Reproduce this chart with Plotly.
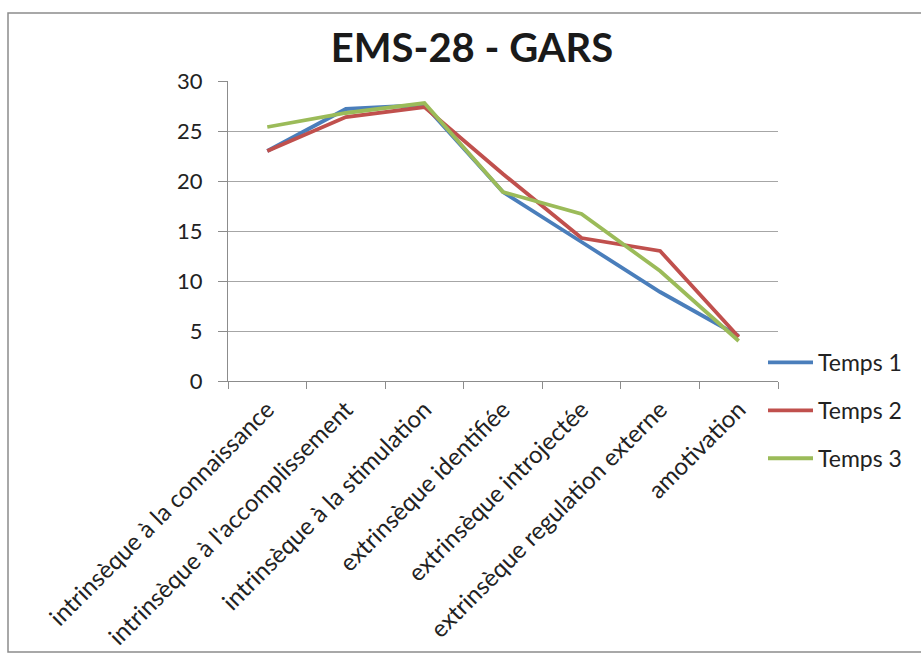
import plotly.graph_objects as go

categories = [
    "intrinsèque à la connaissance",
    "intrinsèque à l'accomplissement",
    "intrinsèque à la stimulation",
    "extrinsèque identifiée",
    "extrinsèque introjectée",
    "extrinsèque regulation externe",
    "amotivation",
]
temps1 = [23.0, 27.2, 27.6, 18.9, 13.9, 8.9, 4.5]
temps2 = [23.0, 26.4, 27.4, 20.7, 14.3, 13.0, 4.4]
temps3 = [25.4, 26.8, 27.8, 18.9, 16.7, 11.0, 4.0]
y_ticks = [0, 5, 10, 15, 20, 25, 30]

series = [
    ("Temps 1", temps1, "#4A7EBB"),
    ("Temps 2", temps2, "#C0504D"),
    ("Temps 3", temps3, "#9BBB59"),
]

W, H = 921, 659
L, R, T, B = 228, 143, 81, 278

fig = go.Figure()
for i, (name, vals, color) in enumerate(series):
    fig.add_trace(go.Scatter(
        x=categories, y=vals, name=name, mode="lines",
        line=dict(color=color, width=3.8),
        legendgroup=f"g{i}",
    ))

font_fam = "Lato, 'Open Sans', sans-serif"
text_col = "#222222"

# outer chart frame (paper coordinates relative to plot area)
pw, ph = W - L - R, H - T - B
def px_x(x):
    return (x - L) / pw
def px_y(y):
    return 1 - (y - T) / ph

fig.add_shape(type="rect", xref="paper", yref="paper",
              x0=px_x(8), x1=px_x(930), y0=px_y(13), y1=px_y(652),
              line=dict(color="#8c8c8c", width=1.5), fillcolor="rgba(0,0,0,0)",
              layer="below")

fig.update_layout(
    width=W, height=H,
    margin=dict(l=L, r=R, t=T, b=B, autoexpand=False),
    paper_bgcolor="white", plot_bgcolor="white",
    title=dict(text="<b>EMS-28 - GARS</b>", x=472 / W, xanchor="center",
               y=1 - 48 / H, yanchor="middle",
               font=dict(family=font_fam, size=40, color="#1a1a1a")),
    font=dict(family=font_fam, color=text_col),
    showlegend=True,
    legend=dict(x=px_x(763), y=px_y(341), xanchor="left", yanchor="top",
                font=dict(size=23, family=font_fam, color=text_col),
                itemwidth=45, tracegroupgap=15, bgcolor="rgba(0,0,0,0)"),
    xaxis=dict(
        type="category", tickson="boundaries", ticks="outside", ticklen=7,
        tickcolor="#8c8c8c", showline=True, linecolor="#8c8c8c", linewidth=1,
        showgrid=False, tickangle=-45, range=[-0.5, 6.5],
        ticklabelstandoff=4,
        tickfont=dict(size=24, family=font_fam, color=text_col),
    ),
    yaxis=dict(
        range=[0, 30], tickvals=y_ticks, ticks="outside", ticklen=9,
        tickcolor="#8c8c8c", showline=True, linecolor="#8c8c8c", linewidth=1,
        showgrid=True, gridcolor="#a6a6a6", gridwidth=1, zeroline=False,
        ticklabelstandoff=11,
        tickfont=dict(size=22, family=font_fam, color=text_col),
    ),
)

fig.write_html("out.html")
